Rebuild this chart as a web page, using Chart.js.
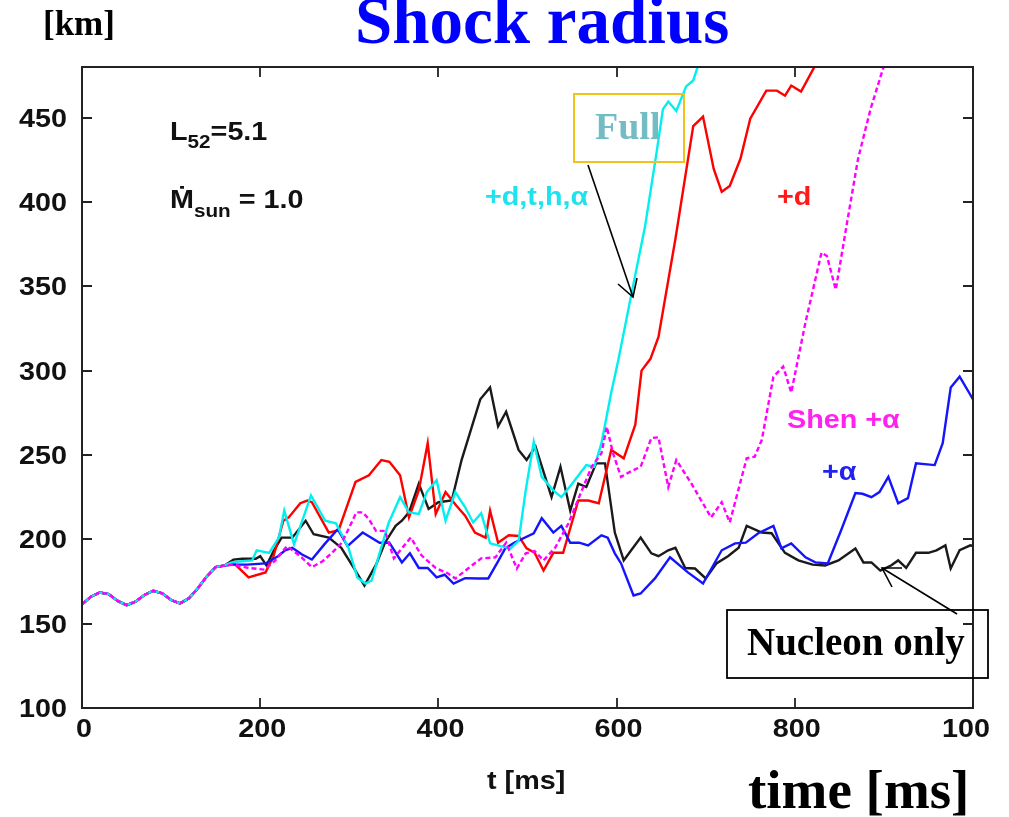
<!DOCTYPE html>
<html>
<head>
<meta charset="utf-8">
<script src="https://cdn.jsdelivr.net/npm/chart.js@4/dist/chart.umd.min.js"></script>
<style>
html,body{margin:0;padding:0;background:#fff;}
#c{display:block;}
</style>
</head>
<body>
<canvas id="c" width="1009" height="817" style="width:1009px;height:817px"></canvas>
<script>
// ---- data (t in ms, shock radius in km) ----
const tCommon = [0,10,20,30,40,50,60,70,80,90,100,110,120,130,140,150,160];
const rCommon = [161.5,166,168.5,167.5,163.5,161,163,167,169.5,168,164,162,165,171,178,183.5,184.5];

const tNucleon = [170,180,195,200,207,215,224,236,251,260,277,291,305,317,330,340,352,359,367,378,389,400,415,426,447,458,467,476,490,499,509,527,537,548,557,566,577,587,598,608,617,627,639,647,658,666,677,688,700,712,725,737,746,763,774,789,804,820,834,849,868,877,886,896,908,916,925,936,950,959,969,975,985,997,1000];
const rNucleon = [188,188.5,188.5,190,184.5,193,201,201,211,203,201,195,183,172.6,185,198,208,211,216,233,218,222,223,247,283,290,267,275.6,253,247,255,225,243,217,233,231,245,245,204,187.5,194,201,191.7,190,193.5,195,183,182.7,176.8,185.7,190,195,208,204,203.6,192,187.5,185,184.5,187.5,194.6,186.3,186.3,181.5,184.5,187.5,183,192,192,193.5,196.4,182.7,193.5,196.4,196];

const tAlpha = [170,185,206,220,228,236,247,258,272,287,298,315,334,345,359,368,378,388,398,407,417,430,445,456,466,475,485,507,516,529,538,548,558,568,583,590,598,605,619,627,643,660,680,697,718,733,745,759,776,785,796,812,823,837,852,868,876,886,895,905,916,927,936,957,966,975,985,997,1000];
const rAlpha = [185,185,185.7,190,193.5,195,191,188,197,206,196,204,198,198,186.3,191.7,183,183,177.4,179,173.8,177,176.8,176.8,186,194.6,198,203.6,212.5,204,208,198,198,196.4,202.4,201,191.7,185.7,166.7,167.9,176.8,189.3,180.4,173.8,193.5,197.6,198,203.6,208,194.6,197.6,189.3,186.3,185.7,205.4,227.4,227,225,228,237,221.4,224.4,245,244,257,290,296.4,285.7,283];

const tDeut = [170,187,206,215,226,232,245,253,258,277,288,307,322,336,345,357,367,378,388,397,408,420,430,441,453,458,467,479,490,499,508,518,529,540,557,568,580,594,608,621,628,638,647,666,686,697,709,718,727,739,750,768,780,789,796,807,823,840];
const rDeut = [186,177.4,180.4,190,211,213,221.4,223,222,204,205.4,234,238,247,246,238,213,229,257,215,228,220,214,204,201,217,198,202.4,202,194.6,192,181.5,192,192,223,223,221.4,253,248,268,300,307,320,378,445,450.6,419.6,406,409.5,425.6,449.4,466,466,463,469,465.5,481,500];

const tFull = [168,180,191,196,210,221,227,238,257,273,285,299,309,318,325,333,344,357,367,378,387,398,408,419,430,439,448,458,470,481,490,498,507,516,529,538,550,566,575,583,594,602,617,632,645,652,658,667,678,686,694,705];
const rFull = [186.3,187,187.5,193.5,192,201,217,197,226,211,209.5,195,177.4,173.8,175.6,190,209.5,225,216,215,228,235,211,228,219,210,215.5,197.6,196,194.6,199,229,257.7,237,229,225,233,244,243,257,287,306.5,346.4,385.7,429.8,455,459.5,454,468.5,472,485,500];

const tShen = [170,187,205,217,230,245,258,270,280,291,300,308,315,322,330,340,350,358,369,381,397,410,419,434,448,464,476,488,498,508,518,531,546,561,572,583,589,596,605,615,627,639,647,658,667,684,706,718,727,746,755,763,776,787,796,812,830,836,846,858,871,885,899,910];
const rShen = [185,183,182,187.5,196,190,183.5,187,191.7,197.6,207,216,216,212,205,205,188.7,194,201,190.5,183,180,176.8,183,188.7,189.3,198,182.7,191.7,193,187.5,195,209.5,229,243,251,266.7,251,237,240,243,260,260.5,231,247,233,213,222,210,248,249,259,296.4,302.4,287,328.6,370,368,348,385.7,425.6,455,479,495];

const yTicks = [100,150,200,250,300,350,400,450];
const xTicks = [0,200,400,600,800,1000];
const xTickLabels = ['0','200','400','600','800','100'];

function series(t, r){
  const ts = tCommon.concat(t), rs = rCommon.concat(r);
  return ts.map((x,i)=>({x:x, y:rs[i]}));
}

const SANS = "'Liberation Sans','DejaVu Sans',Arial,sans-serif";
const SERIF = "'Liberation Serif','DejaVu Serif','Times New Roman',serif";

function txt(ctx, s, x, y, font, color, align, sx){
  ctx.save();
  ctx.font = font; ctx.fillStyle = color; ctx.textBaseline = 'alphabetic';
  sx = sx || 1;
  const w = ctx.measureText(s).width * sx;
  let x0 = x;
  if (align === 'center') x0 = x - w/2;
  else if (align === 'right') x0 = x - w;
  ctx.translate(x0, y); ctx.scale(sx, 1);
  ctx.textAlign = 'left';
  ctx.fillText(s, 0, 0);
  ctx.restore();
  return w;
}
function arrow(ctx, x1, y1, x2, y2, h1, h2){
  ctx.save();
  ctx.strokeStyle = '#000'; ctx.lineWidth = 1.6;
  ctx.beginPath(); ctx.moveTo(x1,y1); ctx.lineTo(x2,y2); ctx.stroke();
  ctx.beginPath(); ctx.moveTo(h1[0],h1[1]); ctx.lineTo(x2,y2); ctx.lineTo(h2[0],h2[1]); ctx.stroke();
  ctx.restore();
}

const SX = 1.15;
const F = 'bold 25px ' + SANS;

const decor = {
  id: 'decor',
  afterDatasetsDraw(chart){
    const ctx = chart.ctx, a = chart.chartArea;
    const xs = chart.scales.x, ys = chart.scales.y;
    ctx.save();
    // frame
    ctx.strokeStyle = '#222'; ctx.lineWidth = 2;
    ctx.strokeRect(a.left, a.top, a.right - a.left, a.bottom - a.top);
    // ticks (inward, mirrored)
    ctx.lineWidth = 1.8;
    ctx.beginPath();
    yTicks.forEach(v=>{
      const p = Math.round(ys.getPixelForValue(v));
      ctx.moveTo(a.left, p); ctx.lineTo(a.left + 10, p);
      ctx.moveTo(a.right, p); ctx.lineTo(a.right - 10, p);
    });
    xTicks.forEach(v=>{
      const p = Math.round(xs.getPixelForValue(v));
      ctx.moveTo(p, a.bottom); ctx.lineTo(p, a.bottom - 10);
      ctx.moveTo(p, a.top); ctx.lineTo(p, a.top + 10);
    });
    ctx.stroke();
    ctx.restore();

    // tick labels
    yTicks.forEach(v=>{
      const p = ys.getPixelForValue(v);
      txt(ctx, String(v), a.left - 15, p + 9, F, '#111', 'right', SX);
    });
    xTicks.forEach((v,i)=>{
      let p = xs.getPixelForValue(v) + 2;
      if (i === xTicks.length - 1) p -= 9;
      txt(ctx, xTickLabels[i], p, a.bottom + 29, F, '#111', 'center', SX);
    });
    txt(ctx, 't [ms]', 487, 789, F, '#111', 'left', SX);

    // inset text
    let w = txt(ctx, 'L', 170, 140, F, '#111', 'left', SX);
    let w2 = txt(ctx, '52', 170 + w, 148, 'bold 18px ' + SANS, '#111', 'left', SX);
    txt(ctx, '=5.1', 170 + w + w2, 140, F, '#111', 'left', SX);
    w = txt(ctx, 'Ṁ', 170, 208, F, '#111', 'left', SX);
    w2 = txt(ctx, 'sun', 170 + w, 217, 'bold 18px ' + SANS, '#111', 'left', SX);
    txt(ctx, ' = 1.0', 170 + w + w2, 208, F, '#111', 'left', SX);

    // series annotations
    txt(ctx, '+d,t,h,α', 485, 205, F, '#1ee3ee', 'left', SX);
    txt(ctx, '+d', 777, 205, F, '#ff1a1a', 'left', SX);
    txt(ctx, 'Shen +α', 787, 428, F, '#ff22ee', 'left', SX);
    txt(ctx, '+α', 822, 480, F, '#2222ee', 'left', SX);

    // overlays
    txt(ctx, 'Shock radius', 355, 43, 'bold 67px ' + SERIF, '#0000ff', 'left', 1);
    txt(ctx, '[km]', 43, 35, 'bold 35px ' + SERIF, '#000', 'left', 1);
    txt(ctx, 'time [ms]', 748, 808, 'bold 55px ' + SERIF, '#000', 'left', 1);

    ctx.save();
    ctx.strokeStyle = '#f2c21a'; ctx.lineWidth = 2;
    ctx.strokeRect(574, 94, 110, 68);
    ctx.strokeStyle = '#000'; ctx.lineWidth = 1.8;
    ctx.strokeRect(727, 610, 261, 68);
    ctx.restore();
    txt(ctx, 'Full', 595, 139, 'bold 38px ' + SERIF, '#74bcc4', 'left', 1);
    txt(ctx, 'Nucleon only', 747, 655, 'bold 39px ' + SERIF, '#000', 'left', 1);

    arrow(ctx, 588, 165, 633, 297, [618, 284], [637, 278]);
    arrow(ctx, 957, 614, 882, 568, [902, 568], [892, 587]);
  }
};

const common = {fill:false, tension:0, pointRadius:0, borderWidth:2.4};

new Chart(document.getElementById('c'), {
  type: 'line',
  data: {
    datasets: [
      Object.assign({label:'Shen +α', data: series(tShen, rShen), borderColor:'#ff00ff', borderDash:[5,3], order:0}, common),
      Object.assign({label:'+d,t,h,α', data: series(tFull, rFull), borderColor:'#00f0f0', order:1}, common),
      Object.assign({label:'+α', data: series(tAlpha, rAlpha), borderColor:'#1414ff', order:2}, common),
      Object.assign({label:'+d', data: series(tDeut, rDeut), borderColor:'#ff0000', order:3}, common),
      Object.assign({label:'Nucleon only', data: series(tNucleon, rNucleon), borderColor:'#1a1a1a', order:4}, common)
    ]
  },
  options: {
    responsive: false,
    devicePixelRatio: 1,
    animation: false,
    layout: {padding: {left: 82, right: 36, top: 67, bottom: 109}},
    plugins: {legend: {display:false}, tooltip: {enabled:false}},
    scales: {
      x: {type:'linear', min:0, max:1000, display:false},
      y: {type:'linear', min:100, max:480, display:false}
    }
  },
  plugins: [decor]
});
</script>
</body>
</html>
